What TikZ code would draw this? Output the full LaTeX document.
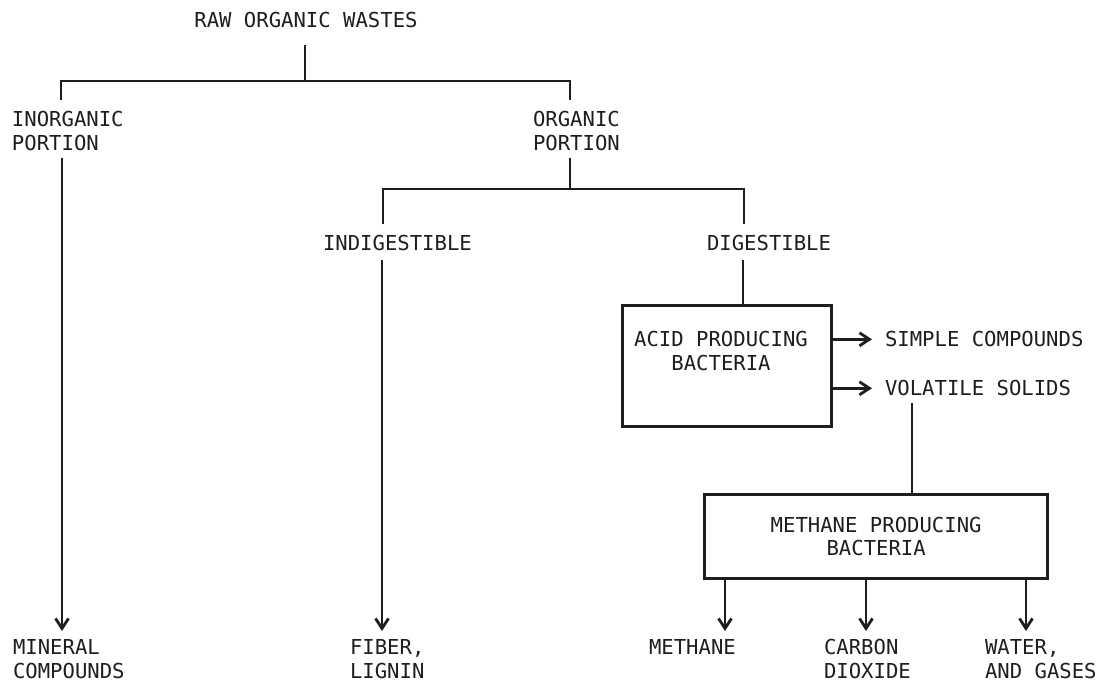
\documentclass[tikz,border=0pt]{standalone}
\usepackage{fontspec}
\setmonofont{DejaVu Sans Mono}
\usetikzlibrary{arrows.meta}
\definecolor{ink}{HTML}{1E1E1E}
\begin{document}
\begin{tikzpicture}[x=1pt,y=-1pt,
  lbl/.style={font=\ttfamily\fontsize{20.6}{23.5}\selectfont, text=ink, inner sep=0pt, outer sep=0pt, anchor=north west, align=left},
  ln/.style={draw=ink, line width=2.8pt},
  arr/.style={ln, -{Straight Barb[length=10pt,width=13pt]}},
  box/.style={draw=ink, line width=3.3pt, inner sep=0pt, anchor=north west}]
\useasboundingbox[fill=white] (0,0) rectangle (1098,683);

% text nodes
\node[lbl, anchor=north, align=center] (raw) at (306,12.5) {RAW ORGANIC WASTES};
\node[lbl] (inorg) at (12,111.5) {INORGANIC\\PORTION};
\node[lbl] (org) at (533,111.5) {ORGANIC\\PORTION};
\node[lbl] (indig) at (323,235.5) {INDIGESTIBLE};
\node[lbl] (dig) at (707,235.5) {DIGESTIBLE};
\node[box, minimum width=209pt, minimum height=121pt] (acid) at (621,304) {};
\node[lbl, anchor=north, align=center] (acidtxt) at (721,331.5) {ACID PRODUCING\\BACTERIA};
\node[lbl] (simple) at (885,331.5) {SIMPLE COMPOUNDS};
\node[lbl] (volat) at (885,380.5) {VOLATILE SOLIDS};
\node[box, minimum width=343pt, minimum height=84pt, font=\ttfamily\fontsize{20.6}{23.5}\selectfont, text=ink, align=center] (meth) at (703,493) {METHANE PRODUCING\\BACTERIA};
\node[lbl] (mineral) at (13,639.5) {MINERAL\\COMPOUNDS};
\node[lbl] (fiber) at (350,639.5) {FIBER,\\LIGNIN};
\node[lbl] (methane) at (649,639.5) {METHANE};
\node[lbl] (carbon) at (824,639.5) {CARBON\\DIOXIDE};
\node[lbl] (water) at (985,639.5) {WATER,\\AND GASES};

% junction / end coordinates
\coordinate (rawB) at (305,45);
\coordinate (j0) at (305,81);
\coordinate (inorgT) at (61,100);
\coordinate (orgT) at (570,100);
\coordinate (inorgB) at (62,158);
\coordinate (mineralT) at (62,631);
\coordinate (orgB) at (570,158);
\coordinate (j1) at (570,189);
\coordinate (indigT) at (383,224);
\coordinate (digT) at (744,224);
\coordinate (indigB) at (382,260);
\coordinate (fiberT) at (382,631);
\coordinate (digB) at (743,260);
\coordinate (volB) at (912,403);
\coordinate (m1) at (725,631);
\coordinate (m2) at (866,631);
\coordinate (m3) at (1026,631);

% connectors
\draw[ln] (rawB) -- (j0);
\draw[ln] (inorgT) -- (inorgT |- j0) -- (orgT |- j0) -- (orgT);
\draw[arr] (inorgB) -- (mineralT);
\draw[ln] (orgB) -- (j1);
\draw[ln] (indigT) -- (indigT |- j1) -- (digT |- j1) -- (digT);
\draw[arr] (indigB) -- (fiberT);
\draw[ln] (digB) -- (digB |- acid.north);
\draw[arr] (acid.east |- simple.west) -- ([xshift=-13pt]simple.west);
\draw[arr] (acid.east |- volat.west) -- ([xshift=-13pt]volat.west);
\draw[ln] (volB) -- (volB |- meth.north);
\draw[arr] (m1 |- meth.south) -- (m1);
\draw[arr] (m2 |- meth.south) -- (m2);
\draw[arr] (m3 |- meth.south) -- (m3);
\end{tikzpicture}
\end{document}
